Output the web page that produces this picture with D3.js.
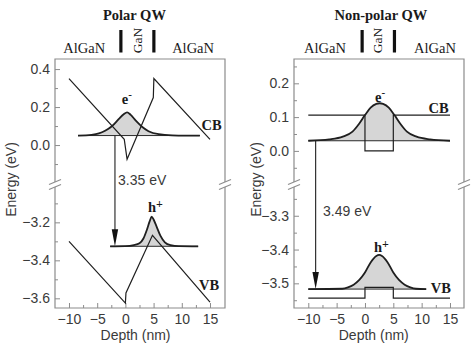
<!DOCTYPE html>
<html>
<head>
<meta charset="utf-8">
<script src="https://cdnjs.cloudflare.com/ajax/libs/d3/7.8.5/d3.min.js"></script>
<style>
  body { margin: 0; background: #fff; }
  .axis text { font-family: "Liberation Sans", Arial, sans-serif; font-size: 14px; fill: #3a3a3a; }
  .axis line { stroke: #8c8c8c; }
  .axis path { display: none; }
  .serif { font-family: "Liberation Serif", "Times New Roman", serif; fill: #1a1a1a; }
  .sans { font-family: "Liberation Sans", Arial, sans-serif; font-size: 14px; fill: #3a3a3a; }
</style>
</head>
<body>
<div id="chart"></div>
<script>
// values (depth in nm, energy in eV)
var depthTicks = [-10, -5, 0, 5, 10, 15];
var depthMinor = [-7.5, -2.5, 2.5, 7.5, 12.5];

// Polar QW
var polarCB = [[-10, 0.35], [-0.2, 0.03], [0.3, -0.075], [4.95, 0.25], [5.05, 0.35], [15, 0.03]];
var polarVB = [[-10, -3.30], [0, -3.625], [0.1, -3.572], [4.8, -3.268], [15, -3.62]];
var polarElectron = [[-8.4, 0.05], [-6, 0.054], [-4.7, 0.061], [-3.6, 0.075], [-2.4, 0.099], [-1.2, 0.136],
  [-0.3, 0.162], [0.3, 0.172], [0.9, 0.16], [1.8, 0.13], [3, 0.095], [4.1, 0.073], [5.9, 0.057],
  [8.3, 0.051], [10.5, 0.05], [13.2, 0.05]];
var polarHole = [[-2.7, -3.326], [0, -3.325], [1.5, -3.32], [2.5, -3.31], [3.2, -3.285], [3.8, -3.24],
  [4.3, -3.195], [4.65, -3.17], [5.0, -3.185], [5.5, -3.22], [6.2, -3.27], [7, -3.305], [8, -3.32],
  [9.5, -3.325], [12.9, -3.326]];
var polarLevels = [0.05, -3.326];
var polarUpperTicks = [0, 0.2, 0.4];
var polarUpperMinor = [-0.1, 0.1, 0.3];
var polarLowerTicks = [-3.6, -3.4, -3.2];
var polarLowerMinor = [-3.5, -3.3, -3.1];
var polarGap = "3.35 eV";

// Non-polar QW
var nonpolarCB = [[-10, 0.106], [0, 0.106], [0, 0], [5, 0], [5, 0.106], [15, 0.106]];
var nonpolarVB = [[-10, -3.544], [0, -3.544], [0, -3.512], [5, -3.512], [5, -3.544], [15, -3.544]];
var nonpolarElectron = [[-10, 0.03], [-6.3, 0.034], [-3.9, 0.042], [-2.2, 0.057], [-1, 0.081], [0, 0.106],
  [1, 0.128], [2, 0.139], [2.6, 0.141], [3.2, 0.139], [4.2, 0.128], [5.2, 0.106], [6.2, 0.081],
  [7.4, 0.057], [9.1, 0.042], [11.5, 0.034], [15, 0.03]];
var nonpolarHole = [[-10, -3.517], [-4, -3.516], [-3, -3.512], [-2, -3.504], [-1, -3.49], [0, -3.468],
  [1, -3.438], [2, -3.419], [2.5, -3.416], [3, -3.419], [4, -3.438], [5, -3.468], [6, -3.49],
  [7, -3.504], [8, -3.512], [9, -3.516], [10.8, -3.517]];
var nonpolarLevels = [0.03, -3.517];
var nonpolarUpperTicks = [0, 0.1, 0.2];
var nonpolarUpperMinor = [-0.05, 0.05, 0.15, 0.25];
var nonpolarLowerTicks = [-3.5, -3.4, -3.3];
var nonpolarLowerMinor = [-3.55, -3.45, -3.35, -3.25];
var nonpolarGap = "3.49 eV";


BandPanel = function(_parentElement, _config) {
  this.parentElement = _parentElement;
  this.config = _config;
  this.initVis();
}

BandPanel.prototype.initVis = function() {
  var vis = this;
  var c = vis.config;

  vis.width = 170;
  vis.height = 249;
  vis.breakY = 125;

  vis.svg = vis.parentElement.append("g")
    .attr("transform", "translate(" + c.left + "," + c.top + ")");

  vis.x = d3.scaleLinear().domain(c.xDomain).range([0, vis.width]);
  // broken energy axis: conduction part on top, valence part below
  vis.yU = d3.scaleLinear().domain(c.upperDomain).range([vis.breakY, 0]);
  vis.yL = d3.scaleLinear().domain(c.lowerDomain).range([vis.height, vis.breakY]);

  vis.drawFrame();
  vis.drawAxes();
  vis.drawBands();
  vis.drawLabels();
}

BandPanel.prototype.drawFrame = function() {
  var vis = this;
  var b = vis.breakY;
  var frame = vis.svg.append("g").attr("stroke", "#8c8c8c").attr("stroke-width", 1.2).attr("fill", "none");

  frame.append("path")
    .attr("d", "M0," + (b - 2) + "V0H" + vis.width + "V" + (b - 2) +
      "M0," + (b + 3) + "V" + vis.height + "H" + vis.width + "V" + (b + 3));

  [0, vis.width].forEach(function(ex) {
    [b - 2, b + 3].forEach(function(cy) {
      frame.append("line")
        .attr("x1", ex - 6).attr("y1", cy + 2.5)
        .attr("x2", ex + 6).attr("y2", cy - 2.5);
    });
  });
}

BandPanel.prototype.drawAxes = function() {
  var vis = this;
  var c = vis.config;

  vis.svg.append("g")
    .attr("class", "axis")
    .attr("transform", "translate(0," + vis.height + ")")
    .call(d3.axisBottom(vis.x).tickValues(depthTicks).tickSize(-5).tickPadding(6).tickFormat(d3.format("d")));

  vis.svg.append("g")
    .attr("class", "axis")
    .attr("transform", "translate(0," + vis.height + ")")
    .call(d3.axisBottom(vis.x).tickValues(depthMinor).tickSize(-3).tickFormat(""));

  vis.svg.append("g")
    .attr("class", "axis")
    .call(d3.axisLeft(vis.yU).tickValues(c.upperTicks).tickSize(-5).tickPadding(5).tickFormat(d3.format(".1f")));
  vis.svg.append("g")
    .attr("class", "axis")
    .call(d3.axisLeft(vis.yU).tickValues(c.upperMinor).tickSize(-3).tickFormat(""));

  vis.svg.append("g")
    .attr("class", "axis")
    .call(d3.axisLeft(vis.yL).tickValues(c.lowerTicks).tickSize(-5).tickPadding(5).tickFormat(d3.format(".1f")));
  vis.svg.append("g")
    .attr("class", "axis")
    .call(d3.axisLeft(vis.yL).tickValues(c.lowerMinor).tickSize(-3).tickFormat(""));

  vis.svg.append("text")
    .attr("class", "sans")
    .attr("transform", "translate(" + c.yLabelX + "," + (vis.height / 2 - 4) + ") rotate(-90)")
    .attr("text-anchor", "middle")
    .text("Energy (eV)");

  vis.svg.append("text")
    .attr("class", "sans")
    .attr("x", vis.x(c.xLabelAt))
    .attr("y", vis.height + 32)
    .attr("text-anchor", "middle")
    .text("Depth (nm)");
}

BandPanel.prototype.drawBands = function() {
  var vis = this;
  var c = vis.config;
  var yU = vis.yU, yL = vis.yL;

  var straight = function(y) {
    return d3.line().x(function(d) { return vis.x(d[0]); }).y(function(d) { return y(d[1]); });
  };
  var smooth = function(y) {
    return d3.line().curve(d3.curveMonotoneX)
      .x(function(d) { return vis.x(d[0]); }).y(function(d) { return y(d[1]); });
  };
  var filled = function(y, level) {
    return d3.area().curve(d3.curveMonotoneX)
      .x(function(d) { return vis.x(d[0]); })
      .y0(y(level))
      .y1(function(d) { return y(d[1]); });
  };

  var waves = [
    { pts: c.electron, y: yU, level: c.levels[0] },
    { pts: c.hole, y: yL, level: c.levels[1] }
  ];

  waves.forEach(function(w) {
    vis.svg.append("path")
      .datum(w.pts)
      .attr("fill", "#d6d6d6")
      .attr("d", filled(w.y, w.level));
  });

  waves.forEach(function(w) {
    var ends = d3.extent(w.pts, function(d) { return d[0]; });
    vis.svg.append("line")
      .attr("x1", vis.x(ends[0])).attr("x2", vis.x(ends[1]))
      .attr("y1", w.y(w.level)).attr("y2", w.y(w.level))
      .attr("stroke", "#2a2a2a").attr("stroke-width", 1);
    vis.svg.append("path")
      .datum(w.pts)
      .attr("fill", "none")
      .attr("stroke", "#1f1f1f")
      .attr("stroke-width", 1.8)
      .attr("d", smooth(w.y));
  });

  vis.svg.append("path")
    .datum(c.cb)
    .attr("fill", "none").attr("stroke", "#1f1f1f").attr("stroke-width", 1.2)
    .attr("d", straight(yU));

  vis.svg.append("path")
    .datum(c.vb)
    .attr("fill", "none").attr("stroke", "#1f1f1f").attr("stroke-width", 1.2)
    .attr("d", straight(yL));

  // transition arrow between the two levels
  var ax = vis.x(c.arrowAt);
  var top = yU(c.levels[0]);
  var tip = yL(c.levels[1]);
  vis.svg.append("line")
    .attr("x1", ax).attr("x2", ax)
    .attr("y1", top).attr("y2", tip - 8)
    .attr("stroke", "#1f1f1f").attr("stroke-width", 1.1);
  vis.svg.append("path")
    .attr("d", "M" + ax + "," + tip + "L" + (ax - 3.2) + "," + (tip - 17) + "L" + (ax + 3.2) + "," + (tip - 17) + "Z")
    .attr("fill", "#111");

  vis.svg.append("text")
    .attr("class", "sans")
    .attr("x", vis.x(c.gapAt[0]))
    .attr("y", yL(c.gapAt[1]))
    .text(c.gap);
}

BandPanel.prototype.drawLabels = function() {
  var vis = this;
  var c = vis.config;

  vis.svg.append("text")
    .attr("class", "serif")
    .attr("x", vis.x(c.titleAt))
    .attr("y", -39)
    .attr("text-anchor", "middle")
    .attr("font-size", 14.5)
    .attr("font-weight", "bold")
    .text(c.title);

  c.barrierAt.forEach(function(bx) {
    vis.svg.append("text")
      .attr("class", "serif")
      .attr("x", vis.x(bx))
      .attr("y", -6.5)
      .attr("text-anchor", "middle")
      .attr("font-size", 14.5)
      .text("AlGaN");
  });

  vis.svg.append("text")
    .attr("class", "serif")
    .attr("transform", "translate(" + vis.x(c.wellAt) + ",-18.5) rotate(-90)")
    .attr("text-anchor", "middle")
    .attr("dy", "0.33em")
    .attr("font-size", 13.5)
    .text("GaN");

  c.bars.forEach(function(bx) {
    vis.svg.append("line")
      .attr("x1", vis.x(bx)).attr("x2", vis.x(bx))
      .attr("y1", -29).attr("y2", -6.5)
      .attr("stroke", "#111").attr("stroke-width", 3.2);
  });

  var bandText = function(t, pos, y) {
    vis.svg.append("text")
      .attr("class", "serif")
      .attr("x", vis.x(pos[0]))
      .attr("y", y(pos[1]))
      .attr("font-size", 14.5)
      .attr("font-weight", "bold")
      .text(t);
  };
  bandText("CB", c.cbAt, vis.yU);
  bandText("VB", c.vbAt, vis.yL);

  var e = vis.svg.append("text")
    .attr("class", "serif")
    .attr("x", vis.x(c.eAt[0]))
    .attr("y", vis.yU(c.eAt[1]))
    .attr("font-size", 14.5)
    .attr("font-weight", "bold");
  e.append("tspan").text("e");
  e.append("tspan").attr("dy", -6).attr("font-size", 11).text("-");

  var h = vis.svg.append("text")
    .attr("class", "serif")
    .attr("x", vis.x(c.hAt[0]))
    .attr("y", vis.yL(c.hAt[1]))
    .attr("font-size", 14.5)
    .attr("font-weight", "bold");
  h.append("tspan").text("h");
  h.append("tspan").attr("dy", -4).attr("font-size", 12).text("+");
}


var svg = d3.select("#chart").append("svg")
  .attr("width", 473)
  .attr("height", 358);

var polarPanel = new BandPanel(svg, {
  left: 55, top: 59,
  xDomain: [-12.48, 17.66],
  upperDomain: [-0.205, 0.453],
  lowerDomain: [-3.651, -2.998],
  upperTicks: polarUpperTicks, upperMinor: polarUpperMinor,
  lowerTicks: polarLowerTicks, lowerMinor: polarLowerMinor,
  cb: polarCB, vb: polarVB,
  electron: polarElectron, hole: polarHole,
  levels: polarLevels,
  gap: polarGap, gapAt: [-1.3, -3.004], arrowAt: -1.85,
  title: "Polar QW", titleAt: 1.6,
  barrierAt: [-7.3, 12.0], wellAt: 2.15, bars: [-0.8, 5.05],
  cbAt: [13.5, 0.078], vbAt: [13.05, -3.556],
  eAt: [-0.65, 0.214], hAt: [4.0, -3.146],
  yLabelX: -39, xLabelAt: 1.8
});

var nonpolarPanel = new BandPanel(svg, {
  left: 294, top: 59,
  xDomain: [-12.52, 17.47],
  upperDomain: [-0.098, 0.272],
  lowerDomain: [-3.573, -3.206],
  upperTicks: nonpolarUpperTicks, upperMinor: nonpolarUpperMinor,
  lowerTicks: nonpolarLowerTicks, lowerMinor: nonpolarLowerMinor,
  cb: nonpolarCB, vb: nonpolarVB,
  electron: nonpolarElectron, hole: nonpolarHole,
  levels: nonpolarLevels,
  gap: nonpolarGap, gapAt: [-7.4, -3.3], arrowAt: -8.7,
  title: "Non-polar QW", titleAt: 2.8,
  barrierAt: [-7.06, 12.35], wellAt: 2.3, bars: [-0.5, 5.2],
  cbAt: [11.2, 0.113], vbAt: [11.6, -3.528],
  eAt: [1.76, 0.146], hAt: [1.6, -3.407],
  yLabelX: -33, xLabelAt: 1.55
});
</script>
</body>
</html>
